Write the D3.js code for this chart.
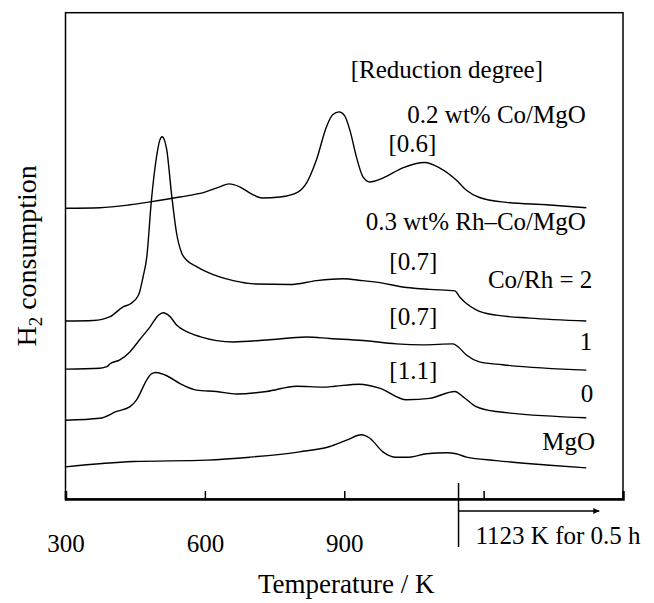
<!DOCTYPE html>
<html>
<head>
<meta charset="utf-8">
<script src="https://cdnjs.cloudflare.com/ajax/libs/d3/7.8.5/d3.min.js"></script>
<style>
  body { margin: 0; background: #fff; }
  text { font-family: "Liberation Serif", "Times New Roman", serif; fill: #000; }
</style>
</head>
<body>
<script>
// TPR profiles, temperature (K) vs H2 consumption (a.u., curves stacked)
const coMgO = [[300,59.8],[374,59.9],[439,60.5],[482,61.1],[546,62.1],[600,63.1],[632,64.2],[652,64.8],[675,64.2],
  [701,62.7],[723,61.9],[762,62.1],[800,63.1],[819,65.0],[840,69.7],[862,76.6],[875,79.0],[889,79.6],[901,78.8],
  [912,75.9],[926,70.4],[940,66.3],[955,65.2],[983,66.0],[1026,68.1],[1073,69.2],[1105,68.1],[1141,65.6],
  [1163,63.5],[1191,62.0],[1249,61.0],[1335,60.5],[1421,59.9]];
const rhCo2 = [[300,36.6],[360,36.7],[396,37.5],[424,39.5],[439,40.1],[457,41.9],[467,45.7],[475,49.8],[485,61.5],
  [496,70.4],[503,73.8],[508,74.5],[513,73.8],[518,71.8],[528,62.9],[539,54.7],[550,50.6],[561,49.1],[582,47.8],
  [604,46.7],[661,44.9],[711,44.2],[783,44.1],[840,44.9],[897,45.3],[940,44.9],[983,44.4],[1019,43.7],[1084,43.1],
  [1138,42.8],[1148,41.6],[1163,40.2],[1184,38.9],[1227,37.8],[1299,37.2],[1421,36.6]];
const rhCo1 = [[300,26.7],[374,26.9],[389,27.2],[396,27.8],[417,28.6],[439,30.3],[460,32.8],[482,35.4],[500,37.8],
  [510,38.3],[525,37.5],[539,35.8],[561,34.4],[589,33.4],[661,32.3],[733,32.7],[819,33.3],[869,33.0],[940,32.6],
  [1012,31.9],[1069,31.7],[1134,31.9],[1145,31.3],[1163,29.6],[1191,28.2],[1241,27.6],[1421,26.5]];
const rhCo0 = [[300,16.2],[374,16.6],[410,18.0],[439,19.0],[453,20.4],[475,24.5],[484,25.7],[495,26.0],[514,25.5],
  [553,23.4],[582,22.4],[625,22.1],[668,21.6],[733,22.1],[797,23.2],[854,23.0],[880,23.2],[933,23.6],[976,22.8],
  [1034,20.4],[1084,20.7],[1138,22.1],[1156,21.0],[1184,19.0],[1227,18.0],[1421,16.7]];
const mgO = [[300,6.6],[446,7.7],[604,8.0],[697,8.6],[804,9.7],[869,10.8],[905,12.1],[937,13.2],[955,12.5],
  [983,9.7],[1012,8.6],[1040,8.6],[1077,9.3],[1120,9.5],[1141,9.3],[1163,8.6],[1227,7.9],[1335,7.0],[1421,6.4]];

const series = [coMgO, rhCo2, rhCo1, rhCo0, mgO];
const seriesLabels = ["0.2 wt% Co/MgO", "0.3 wt% Rh\u2013Co/MgO", "1", "0", "MgO"];
const ratioLabels = ["Co/Rh = 2"];
const degreeLabels = ["[0.6]", "[0.7]", "[0.7]", "[1.1]"];
const tickLabels = [300, 600, 900];
const tickMarks = [600, 900, 1200];
const holdTemp = 1146;   // where the 1123 K hold starts on the trace
const arrowEnd = 1449;

const W = 654, H = 603;
const x = d3.scaleLinear().domain([300, 1500]).range([65.5, 623]);
const y = d3.scaleLinear().domain([0, 100]).range([499, 12.7]);

const svg = d3.select("body").append("svg")
  .attr("width", W).attr("height", H);

// frame
svg.append("rect")
  .attr("x", x(300)).attr("y", y(100))
  .attr("width", x(1500) - x(300)).attr("height", y(0) - y(100))
  .attr("fill", "none").attr("stroke", "#000").attr("stroke-width", 1.5);

// tick marks (inward)
const tickAxis = svg.append("g")
  .attr("transform", "translate(0," + y(0) + ")")
  .call(d3.axisBottom(x).tickValues(tickMarks).tickSize(-8).tickFormat(""));
tickAxis.select(".domain").attr("stroke-width", 2.5);
tickAxis.selectAll(".tick line").attr("stroke-width", 1.5);

// tick labels
const labAxis = svg.append("g")
  .attr("transform", "translate(0," + (y(0) + 53) + ")")
  .call(d3.axisBottom(x).tickValues(tickLabels).tickSize(0).tickPadding(0));
labAxis.select(".domain").remove();
labAxis.selectAll("text")
  .attr("font-size", 25).attr("font-family", "Liberation Serif")
  .attr("dy", 0);

// curves
const line = d3.line()
  .x(d => x(d[0])).y(d => y(d[1]))
  .curve(d3.curveMonotoneX);

svg.selectAll("path.trace")
  .data(series)
  .enter().append("path")
  .attr("class", "trace")
  .attr("d", line)
  .attr("fill", "none")
  .attr("stroke", "#000")
  .attr("stroke-width", 1.4);

// annotations
function label(txt, t, v, anchor) {
  svg.append("text")
    .attr("x", x(t)).attr("y", y(v))
    .attr("text-anchor", anchor)
    .attr("font-size", 25)
    .text(txt);
}
label("[Reduction degree]", 914, 86.6, "start");
label(seriesLabels[0], 1420, 77.3, "end");
label(degreeLabels[0], 995, 71.3, "start");
label(seriesLabels[1], 1420, 55.3, "end");
label(degreeLabels[1], 997, 47.0, "start");
label(ratioLabels[0], 1434, 43.4, "end");
label(degreeLabels[2], 997, 35.8, "start");
label(seriesLabels[2], 1434, 30.6, "end");
label(degreeLabels[3], 997, 24.7, "start");
label(seriesLabels[3], 1436, 20.0, "end");
label(seriesLabels[4], 1440, 10.1, "end");

// 1123 K hold marker
svg.append("defs").append("marker")
  .attr("id", "arr").attr("viewBox", "0 0 10 10")
  .attr("refX", 10).attr("refY", 5)
  .attr("markerWidth", 8).attr("markerHeight", 6)
  .attr("markerUnits", "userSpaceOnUse")
  .attr("orient", "auto")
  .append("path").attr("d", "M0,0L10,5L0,10Z").attr("fill", "#000");
svg.append("line")
  .attr("x1", x(holdTemp)).attr("x2", x(holdTemp))
  .attr("y1", y(0) - 16).attr("y2", y(0) + 48)
  .attr("stroke", "#000").attr("stroke-width", 1.5);
svg.append("line")
  .attr("x1", x(holdTemp)).attr("x2", x(arrowEnd))
  .attr("y1", y(0) + 12).attr("y2", y(0) + 12)
  .attr("stroke", "#000").attr("stroke-width", 1.5)
  .attr("marker-end", "url(#arr)");
svg.append("text")
  .attr("x", x(holdTemp) + 17).attr("y", y(0) + 45)
  .attr("font-size", 25)
  .text("1123 K for 0.5 h");

// axis titles
svg.append("text")
  .attr("x", (x(300) + x(1500)) / 2 + 2).attr("y", y(0) + 94)
  .attr("text-anchor", "middle")
  .attr("font-size", 27)
  .text("Temperature / K");

const yl = svg.append("text")
  .attr("transform", "translate(36," + (y(0) + y(100)) / 2 + ") rotate(-90)")
  .attr("text-anchor", "middle")
  .attr("font-size", 28);
yl.append("tspan").text("H");
yl.append("tspan").attr("font-size", 19).attr("dy", 6).text("2");
yl.append("tspan").attr("dy", -6).text(" consumption");
</script>
</body>
</html>
